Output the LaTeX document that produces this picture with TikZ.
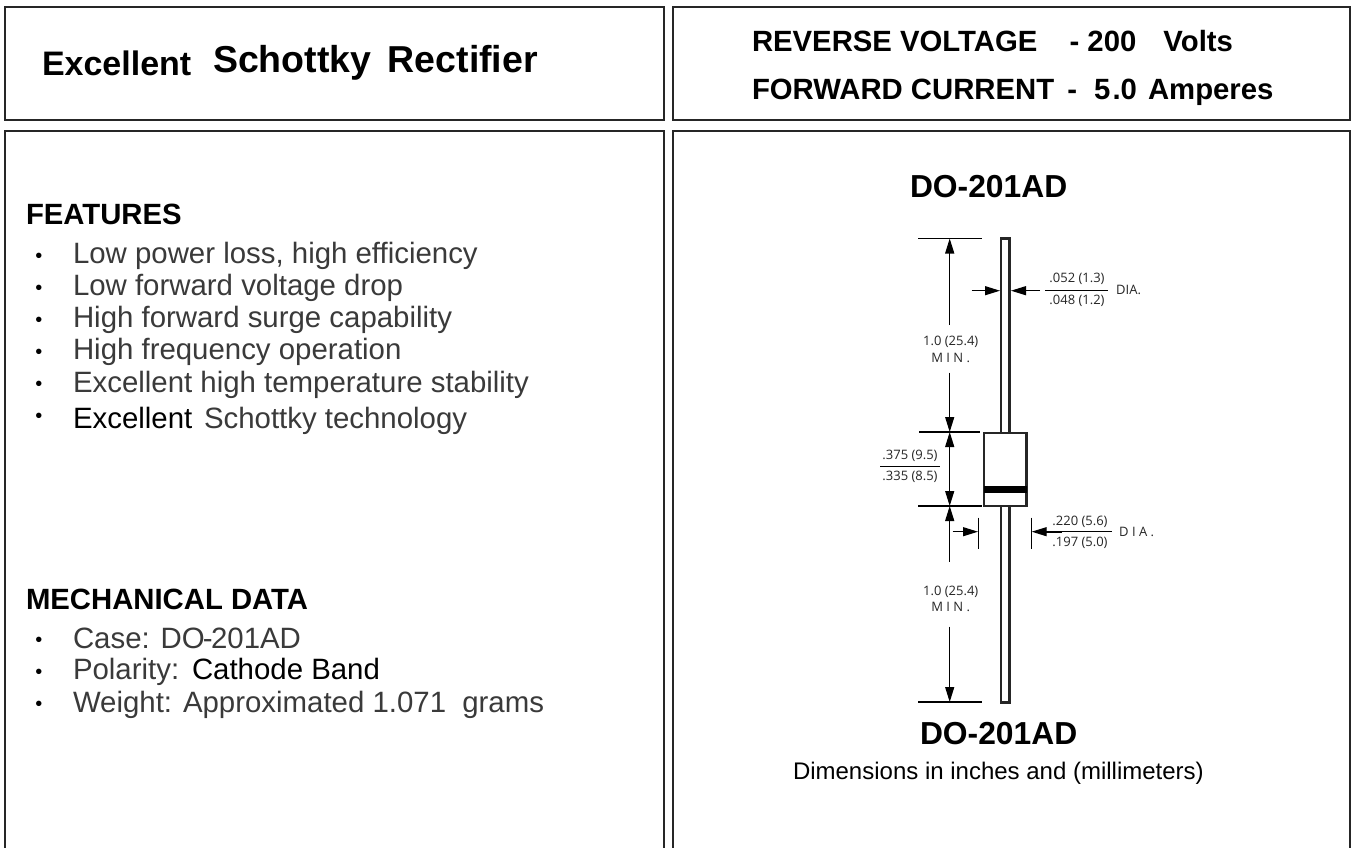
\documentclass[tikz,border=0pt]{standalone}
\usepackage{fontspec}
\setmainfont{Liberation Sans}
\newfontfamily\dimfont{Open Sans}
\usetikzlibrary{arrows.meta}
\definecolor{listgray}{HTML}{3A3A3A}
\tikzset{
  panel/.style={draw=black!85,line width=2pt},
  lbl/.style={anchor=base west,inner sep=0pt,outer sep=0pt},
  head/.style={lbl,font=\bfseries\fontsize{29.3}{29.3}\selectfont,text=black},
  item/.style={lbl,font=\fontsize{29.4}{29.4}\selectfont,text=listgray},
  itemk/.style={item,text=black},
  dot/.style={lbl,anchor=center,yshift=-4pt,font=\fontsize{20}{20}\selectfont,text=black},
  dim/.style={anchor=center,inner sep=0pt,font=\dimfont\fontsize{13}{13}\selectfont,text=black!85},
  dimline/.style={line width=1.2pt,draw=black},
  arr/.style={dimline,-{Triangle[length=15pt,width=9pt]}},
  wire/.style={line width=2.4pt,draw=black!85,fill=white}
}
\begin{document}
\begin{tikzpicture}[x=1pt,y=-1pt]
\useasboundingbox (0,0) rectangle (1361,848);
\fill[white] (0,0) rectangle (1361,848);
% panels
\draw[panel] (5,7) rectangle (664,120);
\draw[panel] (673,7) rectangle (1350,120);
\draw[panel] (5,131) -- (664,131) -- (664,858) -- (5,858) -- cycle;
\draw[panel] (673,131) -- (1350,131) -- (1350,858) -- (673,858) -- cycle;
% titles
\node[lbl,font=\bfseries\fontsize{34}{34}\selectfont] (t1) at (42,76) {Excellent};
\node[lbl,font=\bfseries\fontsize{37.5}{37.5}\selectfont] (t2) at (213,73) {Schottky\hspace{6pt} Rectifier};
\node[lbl,font=\bfseries\fontsize{29.3}{29.3}\selectfont] (r1) at (752,52) {REVERSE VOLTAGE \hspace{24pt}- 200 \hspace{19pt}Volts};
\node[lbl,font=\bfseries\fontsize{29.3}{29.3}\selectfont] (r2) at (752,100) {FORWARD CURRENT \hspace{5pt}- \hspace{9pt}5\hspace{2pt}.0\hspace{3pt} Amperes};
% features
\node[head] (f) at (26,224) {FEATURES};
\foreach \t/\y/\z/\n in {{Low power loss, high efficiency}/263/254/a,{Low forward voltage drop}/295/286/b,{High forward surge capability}/327/318/c,{High frequency operation}/359/350/d,{Excellent high temperature stability}/392/382/e}{
  \node[item] (i\n) at (73,\y) {\t};
  \node[dot] (b\n) at (39,\z) {\textbullet};
}
\node[itemk] (ifa) at (73,428) {Excellent};
\node[item] (ifb) at (204,428) {Schottky technology};
\node[dot] (bf) at (39,414) {\textbullet};
% mechanical
\node[head] (m) at (26,609) {MECHANICAL DATA};
\node[item] (m1) at (73,648) {Case: DO\kern-2pt-\kern-1.5pt201AD};
\node[item] (m2) at (73,679) {Polarity:};
\node[itemk] (m2b) at (192,679) {Cathode Band};
\node[item] (m3) at (73,712) {Weight: Approximated 1.071\hspace{8pt} grams};
\foreach \y/\n in {638/a,670/b,702/c}{\node[dot] (mb\n) at (39,\y) {\textbullet};}
% right
\node[lbl,font=\bfseries\fontsize{31.8}{31.8}\selectfont] (d1) at (910,197) {DO-201AD};
\node[lbl,font=\bfseries\fontsize{31.8}{31.8}\selectfont] (d2) at (920,744) {DO-201AD};
\node[lbl,font=\fontsize{24}{24}\selectfont] (d3) at (793,779) {Dimensions in inches and (millimeters)};
% part
\draw[wire] (1001,238.5) rectangle (1009.5,702.5);
\draw[wire] (984,432.7) rectangle (1026.5,506);
\fill[black] (984,486) rectangle (1026.5,493);
% extension lines
\coordinate (e1a) at (918,238.5); \coordinate (e1b) at (982,238.5);
\coordinate (e2a) at (919,432); \coordinate (e2b) at (980,432);
\coordinate (e3a) at (918,506); \coordinate (e3b) at (982,506);
\coordinate (e4a) at (918,702); \coordinate (e4b) at (982,702);
\draw[dimline] (e1a)--(e1b);\draw[dimline] (e2a)--(e2b);\draw[dimline] (e3a)--(e3b);\draw[dimline] (e4a)--(e4b);
% vertical arrows
\coordinate (v1) at (949.7,325); \coordinate (v1t) at (949.7,238.5);
\coordinate (v2) at (949.7,372.7); \coordinate (v2t) at (949.7,432);
\coordinate (v3) at (949.7,506);
\coordinate (v4) at (949.7,561.7);
\coordinate (v5) at (949.7,626.7); \coordinate (v5t) at (949.7,702);
\draw[arr] (v1)--(v1t);
\draw[arr] (v2)--(v2t);
\draw[dimline,{Triangle[length=15pt,width=9pt]}-{Triangle[length=15pt,width=9pt]}] (v2t)--(v3);
\draw[arr] (v4)--(v3);
\draw[arr] (v5)--(v5t);
% lead dia
\coordinate (la) at (971.7,290.7); \coordinate (lb) at (1000,290.7);
\coordinate (lc) at (1040,290.7); \coordinate (ld) at (1011,290.7);
\draw[arr] (la)--(lb);\draw[arr] (lc)--(ld);
\coordinate (bar1a) at (1045,290.7); \coordinate (bar1b) at (1108,290.7);
\draw[dimline] (bar1a)--(bar1b);
\node[dim] (n1) at (1077,279) {.052 (1.3)};
\node[dim] (n2) at (1077,301) {.048 (1.2)};
\node[dim,anchor=west] (n3) at (1116,290) {DIA.};
% text
\node[dim] (n4) at (950.7,342) {1.0 (25.4)};
\node[dim] (n5) at (950.7,358) {M I N .};
\node[dim] (n6) at (950.7,591.7) {1.0 (25.4)};
\node[dim] (n7) at (950.7,606.7) {M I N .};
\coordinate (bar2a) at (880,466.7); \coordinate (bar2b) at (940,466.7);
\draw[dimline] (bar2a)--(bar2b);
\node[dim] (n8) at (910,456) {.375 (9.5)};
\node[dim] (n9) at (910,477) {.335 (8.5)};
% body dia
\coordinate (ta) at (978.7,517.7); \coordinate (tb) at (978.7,549.3);
\coordinate (tc) at (1031.7,517.7); \coordinate (td) at (1031.7,549.3);
\draw[dimline] (ta)--(tb);\draw[dimline] (tc)--(td);
\coordinate (ra) at (952.7,531.7); \coordinate (rb) at (978,531.7);
\coordinate (rc) at (1111.7,531.7); \coordinate (rd) at (1031.7,531.7);
\coordinate (rm) at (1062,531.7); \coordinate (rn) at (1045,531.7);
\draw[arr] (rc)--(rd);\draw[arr] (ra)--(rb);
\draw[line width=2pt] (rm)--(rn);
\node[dim] (n10) at (1080,521.5) {.220 (5.6)};
\node[dim] (n11) at (1080,542.5) {.197 (5.0)};
\node[dim,anchor=west] (n12) at (1119,531.5) {D I A .};
\end{tikzpicture}
\end{document}
